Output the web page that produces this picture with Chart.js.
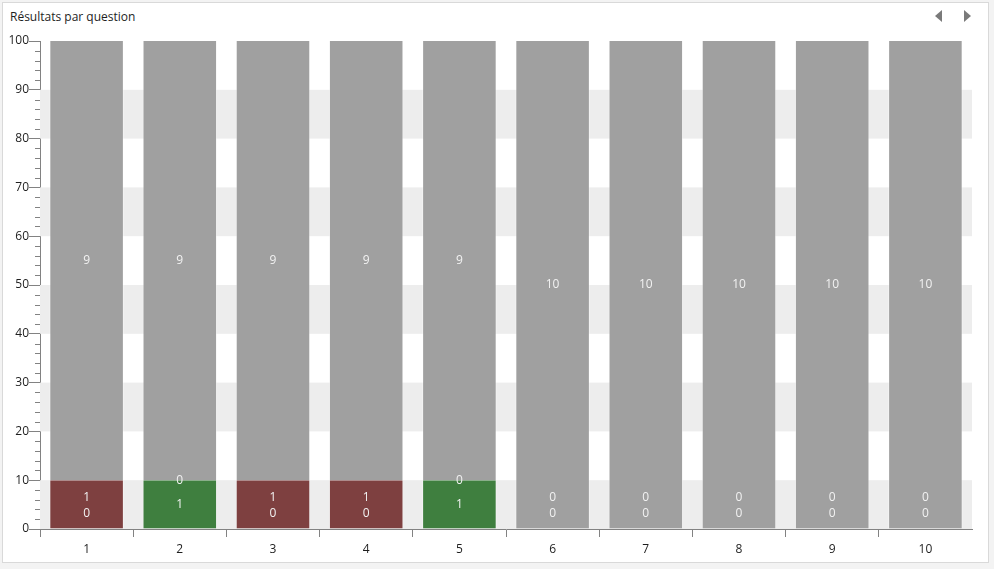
<!DOCTYPE html>
<html>
<head>
<meta charset="utf-8">
<script src="https://cdn.jsdelivr.net/npm/chart.js@4"></script>
<style>
  body { margin: 0; background: #f3f3f3; font-family: "Open Sans", "Noto Sans", sans-serif; }
  #wrap { position: relative; width: 994px; height: 569px; overflow: hidden; }
  #frame { position: absolute; left: 2px; top: 2px; width: 985px; height: 559px; border: 1px solid #d9d9d9; background: #fff; }
  #title { position: absolute; left: 10px; top: 8px; font-size: 12px; color: #1e1e1e; }
  .arrow { position: absolute; top: 10px; width: 0; height: 0; border-top: 6px solid transparent; border-bottom: 6px solid transparent; }
  #prev { left: 935px; border-right: 7px solid #7a7a7a; }
  #next { left: 964px; border-left: 7px solid #7a7a7a; }
  canvas { position: absolute; left: 0; top: 0; }
</style>
</head>
<body>
<div id="wrap">
  <div id="frame"></div>
  <div id="title">Résultats par question</div>
  <div class="arrow" id="prev"></div>
  <div class="arrow" id="next"></div>
  <canvas id="chart" width="994" height="569"></canvas>
</div>
<script>
// questions and answer counts per question
const questions = ["1", "2", "3", "4", "5", "6", "7", "8", "9", "10"];
const correct   = [0, 1, 0, 0, 1, 0, 0, 0, 0, 0];
const wrong     = [1, 0, 1, 1, 0, 0, 0, 0, 0, 0];
const noAnswer  = [9, 9, 9, 9, 9, 10, 10, 10, 10, 10];
const yTicks    = [0, 10, 20, 30, 40, 50, 60, 70, 80, 90, 100];

const series = [
    { label: "Correct", counts: correct, color: "#3f7f3f" },
    { label: "Faux", counts: wrong, color: "#7e4040" },
    { label: "Sans réponse", counts: noAnswer, color: "#a0a0a0" },
];

const totals = questions.map((q, i) => correct[i] + wrong[i] + noAnswer[i]);
const toPercent = (counts) => counts.map((c, i) => c / totals[i] * 100);

const axisColor = "#828282";

// alternating background bands + minor ticks on y axis
const bandsPlugin = {
    id: "bands",
    beforeDatasetsDraw(chart) {
        const { ctx, chartArea, scales } = chart;
        ctx.save();
        ctx.fillStyle = "#ededed";
        for (let v = 0; v < 100; v += 20) {
            const y1 = scales.y.getPixelForValue(v);
            const y2 = scales.y.getPixelForValue(v + 10);
            ctx.fillRect(chartArea.left, y2, chartArea.right - chartArea.left, y1 - y2);
        }
        ctx.restore();
    },
    afterDraw(chart) {
        const { ctx, chartArea, scales } = chart;
        ctx.save();
        ctx.strokeStyle = axisColor;
        ctx.lineWidth = 1;
        for (let v = 2; v < 100; v += 2) {
            if (v % 10 === 0) continue;
            const y = Math.round(scales.y.getPixelForValue(v)) + 0.5;
            ctx.beginPath();
            ctx.moveTo(chartArea.left - 5, y);
            ctx.lineTo(chartArea.left, y);
            ctx.stroke();
        }
        ctx.restore();
    }
};

// count labels inside bars, pushed up when they would overlap
const labelsPlugin = {
    id: "countLabels",
    afterDatasetsDraw(chart) {
        const { ctx, chartArea } = chart;
        ctx.save();
        ctx.font = "12px 'Open Sans', 'Noto Sans', sans-serif";
        ctx.fillStyle = "#f2f2f2";
        ctx.textAlign = "center";
        ctx.textBaseline = "middle";
        questions.forEach((q, i) => {
            let prevY = null;
            series.forEach((s, d) => {
                const bar = chart.getDatasetMeta(d).data[i];
                let y = (bar.y + bar.base) / 2;
                if (prevY === null) y = Math.min(y, chartArea.bottom - 15);
                else y = Math.min(y, prevY - 16);
                ctx.fillText(String(s.counts[i]), bar.x, y);
                prevY = y;
            });
        });
        ctx.restore();
    }
};

const ctx = document.getElementById("chart").getContext("2d");
Chart.defaults.font.family = "'Open Sans', 'Noto Sans', sans-serif";
Chart.defaults.font.size = 12;
Chart.defaults.color = "#1e1e1e";

const myChart = new Chart(ctx, {
    type: "bar",
    data: {
        labels: questions,
        datasets: series.map(s => ({
            label: s.label,
            data: toPercent(s.counts),
            backgroundColor: s.color,
            borderColor: "rgba(255,255,255,0.35)",
            borderWidth: { left: 1, right: 1, top: 0, bottom: 0 },
            borderSkipped: false,
            barPercentage: 0.8,
            categoryPercentage: 1,
        })),
    },
    options: {
        responsive: false,
        animation: false,
        devicePixelRatio: 1,
        layout: { padding: { top: 41, right: 22, bottom: 10, left: 0 } },
        plugins: { legend: { display: false }, tooltip: { enabled: false }, title: { display: false } },
        scales: {
            x: {
                stacked: true,
                grid: {
                    offset: true,
                    drawOnChartArea: false,
                    tickLength: 8,
                    color: (c) => (c.type === "scale" || c.index === questions.length) ? "rgba(0,0,0,0)" : axisColor,
                },
                border: { display: true, color: axisColor },
                ticks: { padding: 5, maxRotation: 0 },
                afterFit(scale) { scale.height = 30; },
            },
            y: {
                stacked: true,
                min: 0,
                max: 100,
                afterBuildTicks(scale) { scale.ticks = yTicks.map(v => ({ value: v })); },
                grid: { drawOnChartArea: false, tickLength: 11, color: axisColor },
                border: { display: true, color: axisColor },
                ticks: { padding: 0 },
                afterFit(scale) { scale.width = 40; },
            },
        },
    },
    plugins: [bandsPlugin, labelsPlugin],
});
</script>
</body>
</html>
